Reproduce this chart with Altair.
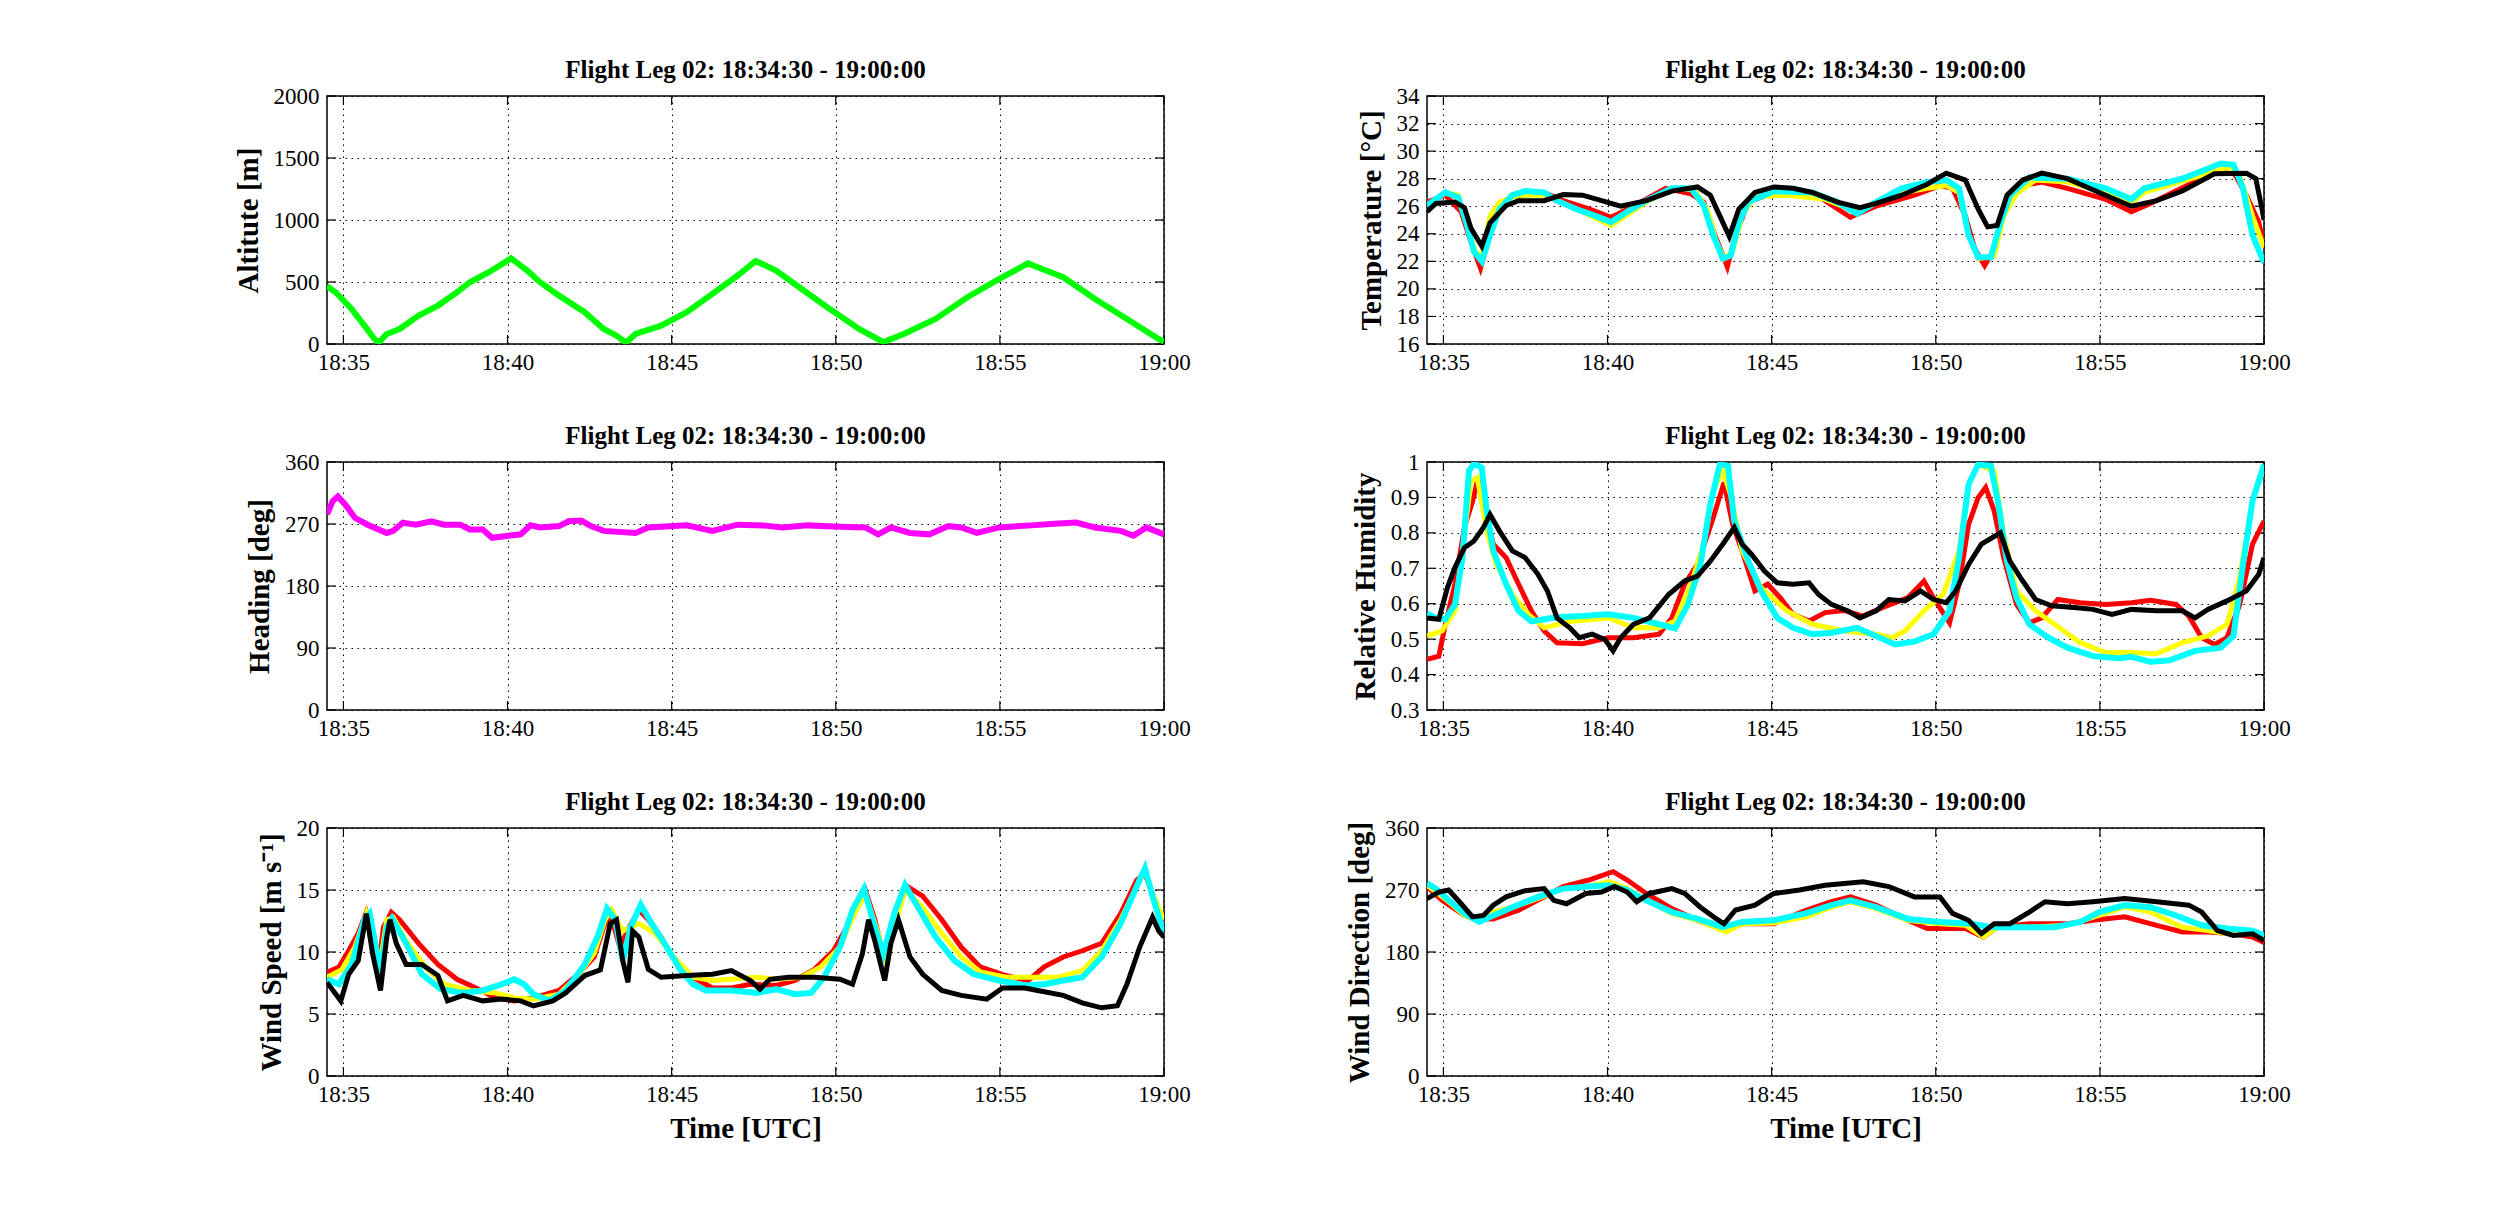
import altair as alt
import pandas as pd

SERIF = "Liberation Serif"
TITLE = "Flight Leg 02: 18:34:30 - 19:00:00"

# minutes after 18:00 UTC
X_DOMAIN = [34.5, 60.0]
X_TICKS = [35, 40, 45, 50, 55, 60]

ALTITUDE = [
    (34.5, 466), (34.77, 415), (35.25, 283), (35.64, 148), (35.93, 46), (36.07, 10),
    (36.32, 81), (36.71, 121), (37.29, 229), (37.88, 310), (38.46, 417), (38.85, 498),
    (39.43, 579), (40.11, 690), (40.60, 592), (40.99, 498), (41.57, 390), (42.35, 256),
    (42.93, 121), (43.32, 67), (43.61, 10), (43.90, 81), (44.68, 148), (45.46, 256),
    (46.24, 404), (47.01, 552), (47.56, 670), (48.18, 592), (48.96, 444), (49.74, 296),
    (50.71, 121), (51.45, 15), (52.07, 81), (53.04, 202), (54.01, 377), (54.98, 525),
    (55.86, 650), (56.15, 619), (56.93, 538), (57.90, 363), (58.87, 202), (59.84, 40),
    (60.0, 20),
]

HEADING = [
    (34.5, 284), (34.67, 303), (34.83, 310), (35.06, 298), (35.35, 279), (35.74, 269),
    (36.32, 257), (36.52, 260), (36.81, 272), (37.20, 269), (37.68, 274), (38.07, 269),
    (38.56, 269), (38.85, 262), (39.24, 262), (39.53, 250), (40.02, 253), (40.40, 255),
    (40.70, 268), (40.99, 265), (41.57, 267), (41.86, 274), (42.25, 275), (42.54, 267),
    (42.93, 260), (43.90, 257), (44.29, 265), (45.46, 268), (46.24, 260), (47.01, 269),
    (47.79, 268), (48.37, 265), (49.15, 268), (50.13, 266), (50.90, 265), (51.29, 255),
    (51.68, 265), (52.26, 257), (52.85, 255), (53.43, 267), (53.82, 265), (54.30, 257),
    (54.98, 265), (55.96, 268), (56.54, 270), (57.32, 272), (57.90, 265), (58.68, 260),
    (59.07, 253), (59.46, 265), (60.0, 255),
]

TEMP_RED = [
    (34.5, 26.3), (35.06, 26.8), (35.54, 25.6), (35.84, 23.4), (36.13, 21.5), (36.36, 23.4),
    (36.61, 25.8), (37.10, 26.7), (38.07, 27.0), (38.65, 26.4), (39.43, 25.8), (40.11, 25.2),
    (40.79, 26.0), (41.77, 27.3), (42.54, 26.9), (42.93, 26.3), (43.32, 23.6), (43.65, 21.6),
    (43.90, 23.9), (44.29, 26.3), (45.07, 27.0), (46.24, 27.0), (47.40, 25.2), (48.18, 26.0),
    (49.35, 26.8), (50.13, 27.5), (50.51, 27.3), (50.90, 25.3), (51.19, 22.9), (51.49, 21.7),
    (51.78, 22.9), (52.07, 25.8), (52.65, 27.5), (53.23, 27.75), (54.01, 27.3), (55.18, 26.5),
    (55.96, 25.6), (56.54, 26.2), (57.90, 27.8), (58.68, 28.6), (59.07, 28.5), (59.46, 26.8),
    (59.84, 24.85), (60.0, 23.1),
]
TEMP_YELLOW = [
    (34.5, 26.05), (35.06, 27.0), (35.45, 26.8), (35.74, 24.6), (35.97, 22.7), (36.17, 22.3),
    (36.42, 25.3), (36.71, 26.3), (37.29, 26.8), (38.07, 26.8), (39.04, 25.8), (40.11, 24.6),
    (41.18, 26.3), (41.96, 27.3), (42.64, 27.2), (43.03, 25.8), (43.32, 23.4), (43.55, 22.2),
    (43.81, 22.7), (44.10, 25.3), (44.49, 26.7), (45.46, 26.8), (46.63, 26.5), (47.60, 25.6),
    (48.57, 26.8), (49.74, 27.3), (50.32, 27.5), (50.71, 27.0), (51.00, 23.9), (51.29, 22.2),
    (51.78, 22.4), (52.07, 25.3), (52.46, 26.9), (53.04, 27.9), (54.01, 27.75), (55.18, 27.0),
    (55.96, 26.3), (56.35, 27.0), (57.90, 28.1), (58.87, 28.8), (59.26, 28.2), (59.65, 25.3),
    (60.0, 23.0),
]
TEMP_CYAN = [
    (34.5, 26.05), (35.06, 27.0), (35.45, 26.65), (35.70, 24.8), (35.93, 22.7), (36.17, 22.0),
    (36.42, 23.9), (36.71, 25.8), (37.10, 26.8), (37.49, 27.1), (38.07, 27.0), (38.46, 26.4),
    (39.04, 25.8), (39.63, 25.3), (40.11, 24.85), (40.60, 25.6), (41.18, 26.4), (41.96, 27.3),
    (42.54, 27.3), (42.93, 26.05), (43.22, 23.9), (43.51, 22.2), (43.75, 22.4), (44.00, 24.8),
    (44.29, 26.3), (45.07, 27.1), (46.24, 27.0), (47.01, 26.3), (47.60, 25.45), (48.18, 26.3),
    (48.96, 27.3), (49.74, 27.75), (50.32, 27.9), (50.71, 27.3), (51.00, 23.9), (51.29, 22.3),
    (51.68, 22.3), (51.97, 24.8), (52.26, 26.8), (52.85, 28.1), (54.01, 28.0), (55.18, 27.3),
    (55.96, 26.5), (56.35, 27.3), (57.51, 28.0), (58.68, 29.1), (59.07, 29.0), (59.36, 27.3),
    (59.65, 23.9), (60.0, 21.9),
]
TEMP_BLACK = [
    (34.5, 25.6), (34.77, 26.2), (35.35, 26.3), (35.64, 25.9), (35.84, 24.4), (36.17, 23.1),
    (36.42, 24.8), (36.91, 26.05), (37.29, 26.4), (38.07, 26.4), (38.65, 26.85), (39.24, 26.8),
    (39.82, 26.4), (40.40, 26.0), (41.18, 26.4), (41.96, 27.1), (42.74, 27.4), (43.13, 26.8),
    (43.42, 25.3), (43.71, 23.8), (44.00, 25.8), (44.49, 27.0), (45.07, 27.4), (45.65, 27.3),
    (46.24, 27.0), (47.01, 26.3), (47.69, 25.9), (48.18, 26.2), (48.96, 26.8), (49.74, 27.6),
    (50.32, 28.4), (50.90, 27.9), (51.29, 25.8), (51.58, 24.5), (51.87, 24.6), (52.17, 26.8),
    (52.65, 27.9), (53.23, 28.4), (54.01, 28.0), (54.98, 27.0), (55.96, 26.0), (56.73, 26.4),
    (57.51, 27.1), (58.49, 28.35), (59.46, 28.4), (59.75, 28.0), (59.94, 25.8), (60.0, 25.0),
]

RH_RED = [
    (34.5, 0.443), (34.86, 0.452), (35.06, 0.542), (35.35, 0.655), (35.64, 0.815), (35.89, 0.89),
    (36.05, 0.951), (36.22, 0.89), (36.52, 0.768), (36.91, 0.73), (37.29, 0.655), (37.68, 0.58),
    (38.07, 0.523), (38.46, 0.49), (39.24, 0.487), (40.02, 0.504), (40.79, 0.504), (41.57, 0.514),
    (41.96, 0.56), (42.35, 0.655), (42.74, 0.711), (43.22, 0.843), (43.55, 0.942), (43.81, 0.824),
    (44.10, 0.749), (44.49, 0.636), (44.88, 0.655), (45.26, 0.617), (45.65, 0.57), (46.14, 0.551),
    (46.63, 0.575), (47.21, 0.581), (47.79, 0.565), (48.37, 0.589), (49.15, 0.617), (49.64, 0.664),
    (49.93, 0.617), (50.32, 0.56), (50.42, 0.546), (50.71, 0.655), (51.00, 0.824), (51.29, 0.899),
    (51.52, 0.928), (51.78, 0.862), (52.07, 0.73), (52.46, 0.598), (52.85, 0.546), (53.23, 0.56),
    (53.72, 0.612), (54.40, 0.603), (55.18, 0.598), (55.96, 0.603), (56.54, 0.61), (57.32, 0.598),
    (57.71, 0.565), (58.10, 0.504), (58.49, 0.485), (58.87, 0.504), (59.26, 0.598), (59.65, 0.768),
    (60.0, 0.833),
]
RH_YELLOW = [
    (34.5, 0.509), (34.96, 0.523), (35.35, 0.58), (35.64, 0.796), (35.84, 0.946), (36.03, 0.956),
    (36.32, 0.805), (36.61, 0.711), (37.10, 0.626), (37.59, 0.57), (38.07, 0.532), (38.85, 0.55),
    (40.02, 0.56), (40.79, 0.532), (41.57, 0.532), (42.06, 0.551), (42.54, 0.655), (42.93, 0.768),
    (43.22, 0.918), (43.51, 0.975), (43.75, 0.908), (44.10, 0.749), (44.68, 0.645), (45.46, 0.58),
    (46.24, 0.542), (47.21, 0.523), (48.18, 0.514), (48.67, 0.504), (49.06, 0.523), (49.64, 0.58),
    (50.22, 0.626), (50.71, 0.749), (51.00, 0.937), (51.29, 0.993), (51.78, 0.975), (52.07, 0.796),
    (52.46, 0.636), (53.04, 0.58), (53.62, 0.542), (54.40, 0.49), (55.18, 0.462), (55.96, 0.462),
    (56.73, 0.459), (57.51, 0.49), (58.29, 0.509), (58.87, 0.542), (59.26, 0.674), (59.65, 0.89),
    (60.0, 0.984),
]
RH_CYAN = [
    (34.5, 0.572), (34.77, 0.56), (35.06, 0.556), (35.35, 0.598), (35.58, 0.73), (35.78, 0.975),
    (35.93, 0.995), (36.17, 0.984), (36.32, 0.86), (36.52, 0.749), (36.91, 0.655), (37.29, 0.58),
    (37.68, 0.55), (38.07, 0.556), (38.46, 0.562), (39.24, 0.565), (40.02, 0.57), (40.79, 0.56),
    (41.57, 0.542), (42.06, 0.53), (42.45, 0.598), (42.83, 0.711), (43.13, 0.88), (43.42, 0.993),
    (43.67, 0.989), (43.86, 0.833), (44.29, 0.72), (44.68, 0.636), (45.17, 0.56), (45.65, 0.532),
    (46.24, 0.514), (46.82, 0.518), (47.60, 0.532), (48.18, 0.509), (48.76, 0.485), (49.35, 0.493),
    (49.93, 0.514), (50.42, 0.58), (50.71, 0.73), (51.00, 0.937), (51.29, 0.993), (51.68, 0.989),
    (51.91, 0.88), (52.17, 0.72), (52.46, 0.617), (52.85, 0.542), (53.43, 0.504), (54.01, 0.476),
    (54.79, 0.452), (55.57, 0.446), (55.96, 0.45), (56.54, 0.436), (57.12, 0.44), (57.90, 0.467),
    (58.68, 0.476), (59.07, 0.509), (59.36, 0.711), (59.65, 0.89), (60.0, 0.993),
]
RH_BLACK = [
    (34.5, 0.56), (34.86, 0.556), (35.12, 0.645), (35.35, 0.702), (35.64, 0.758), (35.93, 0.777),
    (36.22, 0.815), (36.42, 0.852), (36.71, 0.805), (37.10, 0.749), (37.49, 0.73), (37.88, 0.683),
    (38.17, 0.636), (38.46, 0.56), (38.85, 0.532), (39.14, 0.504), (39.53, 0.514), (39.92, 0.499),
    (40.17, 0.467), (40.40, 0.504), (40.79, 0.542), (41.28, 0.56), (41.86, 0.626), (42.35, 0.664),
    (42.74, 0.678), (43.13, 0.72), (43.51, 0.768), (43.86, 0.815), (44.10, 0.768), (44.39, 0.739),
    (44.78, 0.692), (45.17, 0.659), (45.65, 0.655), (46.14, 0.659), (46.43, 0.626), (46.82, 0.598),
    (47.31, 0.58), (47.69, 0.56), (48.18, 0.58), (48.57, 0.612), (49.06, 0.608), (49.54, 0.636),
    (49.93, 0.612), (50.32, 0.603), (50.61, 0.636), (51.00, 0.711), (51.39, 0.768), (51.97, 0.8),
    (52.26, 0.72), (52.65, 0.664), (53.04, 0.612), (53.53, 0.594), (54.21, 0.589), (54.79, 0.584),
    (55.37, 0.57), (55.96, 0.584), (56.73, 0.58), (57.51, 0.58), (57.90, 0.56), (58.29, 0.584),
    (58.87, 0.608), (59.46, 0.636), (59.84, 0.683), (60.0, 0.73),
]

WSPD_RED = [
    (34.5, 8.36), (34.86, 8.77), (35.16, 10.1), (35.45, 11.5), (35.70, 13.2), (35.89, 11.5),
    (36.09, 9.3), (36.22, 12.0), (36.46, 13.2), (36.71, 12.6), (37.29, 10.7), (37.88, 9.0),
    (38.46, 7.8), (39.04, 7.1), (39.63, 6.3), (40.21, 6.06), (40.79, 6.3), (41.57, 6.9),
    (42.15, 8.2), (42.64, 9.6), (42.93, 12.0), (43.13, 13.1), (43.42, 10.4), (43.71, 12.0),
    (44.00, 13.4), (44.29, 12.6), (44.68, 11.2), (45.17, 9.0), (45.65, 7.96), (46.24, 7.1),
    (46.82, 7.1), (47.40, 7.4), (48.18, 7.3), (48.76, 7.7), (49.35, 8.6), (49.93, 10.1),
    (50.51, 12.8), (50.90, 15.0), (51.19, 12.6), (51.49, 9.3), (51.78, 12.6), (52.17, 15.3),
    (52.65, 14.5), (53.23, 12.6), (53.82, 10.4), (54.40, 8.8), (55.18, 8.1), (55.86, 7.7),
    (56.35, 8.8), (56.93, 9.6), (57.51, 10.1), (58.10, 10.7), (58.68, 13.1), (59.17, 15.8),
    (59.42, 16.3), (59.65, 14.7), (60.0, 12.0),
]
WSPD_YELLOW = [
    (34.5, 7.96), (34.96, 8.6), (35.35, 10.4), (35.70, 13.1), (35.89, 11.2), (36.13, 9.3),
    (36.32, 12.6), (36.52, 12.8), (36.91, 10.9), (37.49, 8.8), (38.07, 7.4), (38.85, 6.9),
    (39.63, 6.7), (40.21, 6.3), (40.79, 6.2), (41.57, 6.6), (42.15, 8.1), (42.64, 9.9),
    (42.97, 12.6), (43.17, 13.4), (43.51, 11.7), (44.00, 12.3), (44.49, 11.5), (45.07, 9.6),
    (45.65, 7.96), (46.24, 7.7), (46.82, 7.8), (47.60, 7.96), (48.18, 7.8), (48.96, 7.96),
    (49.54, 8.8), (50.13, 10.4), (50.51, 12.8), (50.90, 14.7), (51.29, 11.5), (51.52, 9.3),
    (51.78, 12.0), (52.11, 15.0), (52.65, 13.6), (53.23, 11.5), (53.82, 9.6), (54.40, 8.4),
    (55.18, 7.96), (55.96, 7.96), (56.73, 7.96), (57.51, 8.5), (58.10, 10.1), (58.68, 12.6),
    (59.17, 15.3), (59.42, 16.5), (59.65, 14.7), (60.0, 12.6),
]
WSPD_CYAN = [
    (34.5, 7.8), (34.86, 7.4), (35.25, 9.0), (35.64, 12.6), (35.80, 13.1), (35.97, 10.7),
    (36.13, 8.2), (36.32, 12.0), (36.48, 12.7), (36.91, 10.7), (37.39, 8.2), (37.97, 7.0),
    (38.65, 6.7), (39.24, 6.9), (39.82, 7.4), (40.21, 7.8), (40.50, 7.4), (40.79, 6.6),
    (41.28, 6.06), (41.77, 6.9), (42.35, 9.0), (42.74, 11.2), (43.03, 13.5), (43.28, 12.6),
    (43.51, 9.3), (43.75, 12.0), (44.06, 13.8), (44.39, 12.3), (44.78, 10.7), (45.26, 8.6),
    (45.65, 7.4), (46.04, 6.9), (46.82, 6.9), (47.60, 6.7), (48.18, 7.0), (48.76, 6.6),
    (49.25, 6.7), (49.64, 7.96), (50.13, 10.4), (50.51, 13.4), (50.86, 15.1), (51.19, 12.0),
    (51.45, 9.85), (51.78, 13.1), (52.11, 15.4), (52.55, 13.4), (53.04, 11.2), (53.62, 9.3),
    (54.21, 8.2), (54.98, 7.7), (55.76, 7.3), (56.35, 7.4), (56.93, 7.7), (57.51, 7.96),
    (58.10, 9.6), (58.68, 12.3), (59.17, 15.3), (59.42, 16.75), (59.65, 14.5), (60.0, 11.5),
]
WSPD_BLACK = [
    (34.5, 7.55), (34.77, 6.6), (34.92, 6.06), (35.16, 8.2), (35.45, 9.3), (35.70, 13.1),
    (35.89, 9.85), (36.13, 6.9), (36.32, 11.2), (36.42, 12.6), (36.61, 10.7), (36.91, 9.0),
    (37.39, 9.0), (37.88, 8.1), (38.17, 6.06), (38.65, 6.5), (39.24, 6.06), (39.82, 6.2),
    (40.40, 6.06), (40.79, 5.66), (41.38, 6.06), (41.77, 6.7), (42.35, 8.1), (42.83, 8.55),
    (43.13, 12.3), (43.32, 12.6), (43.51, 9.3), (43.67, 7.55), (43.81, 11.7), (44.00, 11.2),
    (44.29, 8.6), (44.68, 7.96), (45.46, 8.1), (46.24, 8.2), (46.82, 8.5), (47.40, 7.7),
    (47.69, 7.0), (47.99, 7.8), (48.57, 7.96), (49.35, 7.96), (50.13, 7.8), (50.51, 7.4),
    (50.81, 9.85), (51.00, 12.6), (51.19, 10.9), (51.49, 7.7), (51.68, 10.7), (51.91, 12.6),
    (52.26, 9.6), (52.65, 8.2), (53.23, 6.9), (53.82, 6.5), (54.60, 6.2), (55.08, 7.1),
    (55.76, 7.1), (56.15, 6.9), (56.93, 6.5), (57.51, 5.9), (58.10, 5.5), (58.58, 5.66),
    (58.87, 7.4), (59.26, 10.4), (59.65, 12.8), (59.84, 11.7), (60.0, 11.2),
]

WDIR_RED = [
    (34.5, 274.7), (34.96, 255), (35.64, 233), (36.09, 228), (36.52, 228), (37.29, 240.6),
    (38.07, 260), (38.65, 275), (39.43, 284.5), (40.17, 296.6), (40.60, 284.5), (41.18, 265),
    (41.96, 243), (42.74, 226), (43.61, 211), (44.10, 221), (45.07, 221), (46.04, 240.6),
    (46.82, 253), (47.40, 260), (48.18, 248), (49.15, 226), (49.74, 214), (50.90, 214),
    (51.45, 201.7), (51.87, 216), (52.85, 221), (54.01, 221), (54.79, 226), (55.76, 231),
    (56.73, 218.7), (57.51, 209), (58.29, 209), (59.07, 206.5), (59.65, 201.7), (60.0, 194),
]
WDIR_YELLOW = [
    (34.5, 277), (35.16, 253), (35.64, 233), (36.09, 226), (36.52, 238), (37.10, 245),
    (37.88, 257.7), (38.65, 272), (39.43, 275), (40.05, 282), (40.60, 272), (41.18, 255),
    (41.96, 236), (42.74, 226), (43.61, 209), (44.10, 221), (45.07, 222), (46.04, 231),
    (46.82, 245), (47.40, 253), (48.18, 243), (49.15, 226), (50.13, 221), (50.90, 219),
    (51.45, 201.7), (51.87, 216), (52.85, 216), (54.01, 219), (54.98, 233), (55.76, 245.5),
    (56.54, 238), (57.51, 216), (58.29, 211), (58.87, 206.5), (59.65, 206.5), (60.0, 199),
]
WDIR_CYAN = [
    (34.5, 279.6), (34.77, 272), (35.16, 255), (35.64, 236), (36.09, 223.6), (36.52, 233),
    (37.10, 245), (37.88, 260), (38.65, 272), (39.43, 275), (40.02, 277), (40.60, 270),
    (41.18, 255), (41.96, 238), (42.74, 228), (43.51, 216), (44.10, 223.6), (45.07, 226),
    (46.04, 236), (46.82, 248), (47.40, 255), (48.18, 245), (49.15, 228), (50.13, 223.6),
    (51.10, 221), (51.68, 216), (52.65, 216), (53.62, 216), (54.40, 223.6), (54.98, 238),
    (55.76, 248), (56.54, 245), (57.32, 233), (58.10, 218.7), (58.87, 214), (59.65, 211),
    (60.0, 204),
]
WDIR_BLACK = [
    (34.5, 257.7), (34.86, 267), (35.16, 270), (35.54, 250), (35.89, 231), (36.22, 233),
    (36.52, 248), (36.91, 260), (37.49, 269), (38.07, 272), (38.36, 255), (38.75, 250),
    (39.34, 265), (39.82, 267), (40.21, 275), (40.60, 267), (40.89, 253), (41.28, 265),
    (41.96, 272), (42.35, 265), (42.83, 245), (43.32, 228), (43.55, 221), (43.90, 241),
    (44.49, 248), (45.07, 265), (45.85, 270), (46.63, 277), (47.79, 282), (48.57, 275),
    (49.35, 260), (50.13, 260), (50.51, 236), (51.00, 226), (51.39, 206.5), (51.78, 221),
    (52.26, 221), (52.85, 238), (53.33, 253), (54.01, 250), (54.79, 253), (55.76, 257.7),
    (56.73, 253), (57.71, 248), (58.10, 238), (58.58, 211), (59.07, 204), (59.65, 206.5),
    (60.0, 197),
]

RED, YELLOW, CYAN, BLACK = "#ff0000", "#ffff00", "#00ffff", "#000000"
PANEL_W, PANEL_H = 837, 248
TICK = 9


def panel(series, y_title, y_domain, y_ticks, x_title=None, y_format="d"):
    x_axis = alt.Axis(
        values=X_TICKS, title=x_title,
        labelExpr="datum.value == 60 ? '19:00' : '18:' + datum.value",
    )
    y_axis = alt.Axis(values=y_ticks, title=y_title, format=y_format)
    x_scale = alt.Scale(domain=X_DOMAIN, nice=False)
    y_scale = alt.Scale(domain=y_domain, nice=False, zero=False)

    layers = []
    for points, color, width in series:
        frame = pd.DataFrame(points, columns=["t", "v"])
        layers.append(
            alt.Chart(frame)
            .mark_line(color=color, strokeWidth=width, clip=True)
            .encode(
                x=alt.X("t:Q", scale=x_scale, axis=x_axis),
                y=alt.Y("v:Q", scale=y_scale, axis=y_axis),
            )
        )

    # short inward ticks on all four sides of the frame, MATLAB style
    y_marks = pd.DataFrame({"v": y_ticks})
    x_marks = pd.DataFrame({"t": X_TICKS})
    y_enc = alt.Y("v:Q", scale=y_scale, axis=y_axis)
    x_enc = alt.X("t:Q", scale=x_scale, axis=x_axis)
    rule = dict(color="black", strokeWidth=1.2)
    ticks = [
        alt.Chart(y_marks).mark_rule(**rule).encode(y=y_enc, x=alt.value(0), x2=alt.value(TICK)),
        alt.Chart(y_marks).mark_rule(**rule).encode(
            y=y_enc, x=alt.value(PANEL_W - TICK), x2=alt.value(PANEL_W)),
        alt.Chart(x_marks).mark_rule(**rule).encode(
            x=x_enc, y=alt.value(PANEL_H - TICK), y2=alt.value(PANEL_H)),
        alt.Chart(x_marks).mark_rule(**rule).encode(x=x_enc, y=alt.value(0), y2=alt.value(TICK)),
    ]

    heading = (
        alt.Chart(pd.DataFrame({"label": [TITLE]}))
        .mark_text(font=SERIF, fontSize=25, fontWeight="bold", color="black",
                   align="center", baseline="alphabetic")
        .encode(x=alt.value(PANEL_W / 2), y=alt.value(-18), text="label:N")
    )
    return alt.layer(*ticks, *layers, heading).properties(width=PANEL_W, height=PANEL_H)


def four(r, y, c, k):
    return [(r, RED, 5), (y, YELLOW, 5), (c, CYAN, 6), (k, BLACK, 5)]


left = alt.vconcat(
    panel([(ALTITUDE, "#00ff00", 6)], "Altitute [m]", [0, 2000], [0, 500, 1000, 1500, 2000]),
    panel([(HEADING, "#ff00ff", 6)], "Heading [deg]", [0, 360], [0, 90, 180, 270, 360]),
    panel(four(WSPD_RED, WSPD_YELLOW, WSPD_CYAN, WSPD_BLACK), "Wind Speed [m s⁻¹]",
          [0, 20], [0, 5, 10, 15, 20], x_title="Time [UTC]"),
    spacing=48,
)
right = alt.vconcat(
    panel(four(TEMP_RED, TEMP_YELLOW, TEMP_CYAN, TEMP_BLACK), "Temperature [°C]",
          [16, 34], list(range(16, 35, 2))),
    panel(four(RH_RED, RH_YELLOW, RH_CYAN, RH_BLACK), "Relative Humidity",
          [0.3, 1.0], [0.3, 0.4, 0.5, 0.6, 0.7, 0.8, 0.9, 1.0], y_format="~g"),
    panel(four(WDIR_RED, WDIR_YELLOW, WDIR_CYAN, WDIR_BLACK), "Wind Direction [deg]",
          [0, 360], [0, 90, 180, 270, 360], x_title="Time [UTC]"),
    spacing=48,
)

chart = (
    alt.hconcat(left, right, spacing=153)
    .properties(padding={"left": 225, "top": 49, "right": 5, "bottom": 5})
    .configure_view(stroke="black", strokeWidth=1.5)
    .configure_axis(
        labelFont=SERIF, labelFontSize=23, labelColor="black", labelPadding=8,
        labelFlush=False, labelOverlap=False,
        titleFont=SERIF, titleFontSize=29, titleFontWeight="bold", titleColor="black",
        titlePadding=10, grid=True, gridColor="black", gridDash=[1.5, 4.5],
        gridOpacity=1, gridWidth=1, ticks=False, domain=False,
    )
    .configure_axisX(labelPadding=7, titlePadding=8)
)

chart.save("out.html", embed_options={"renderer": "svg", "actions": False})
